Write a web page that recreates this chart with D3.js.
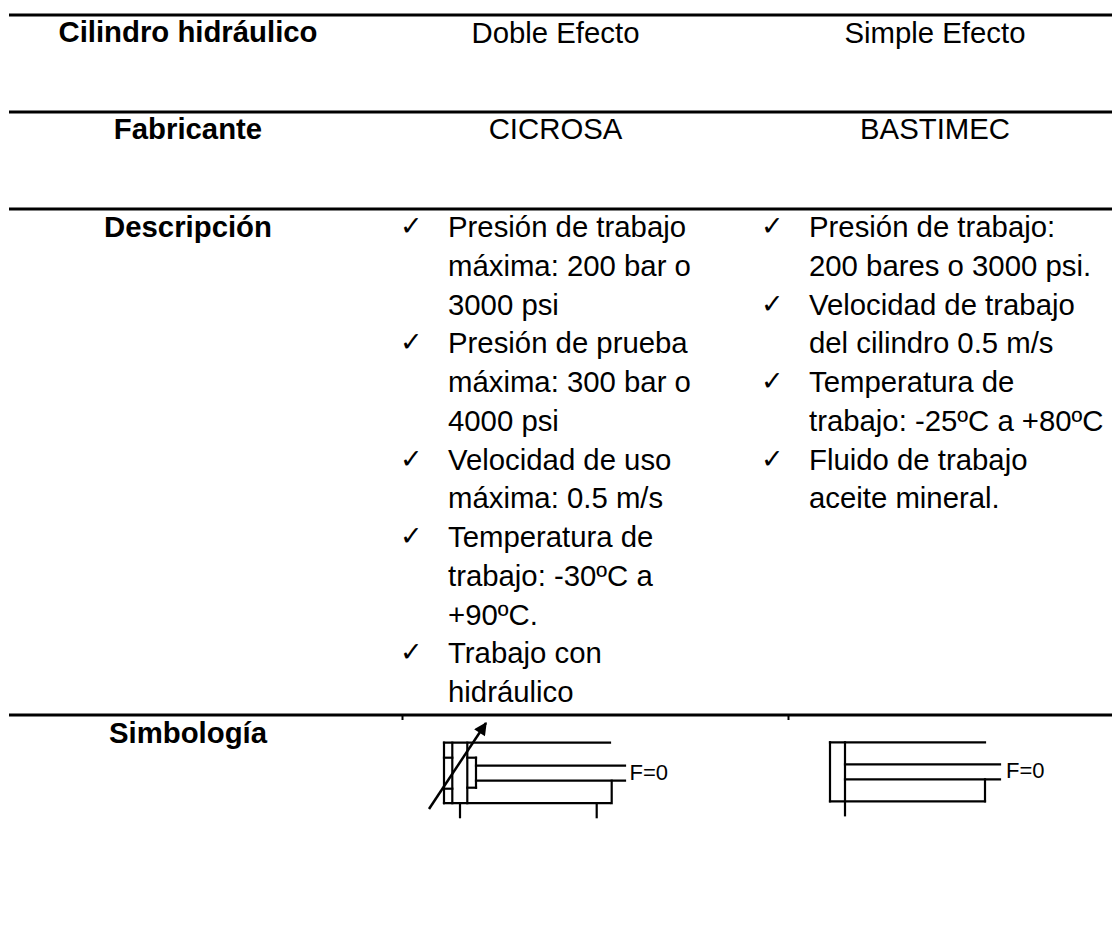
<!DOCTYPE html>
<html><head><meta charset="utf-8">
<script src="https://cdn.jsdelivr.net/npm/d3@7"></script>
<style>html,body{margin:0;background:#fff}svg{display:block}text{font-family:"Liberation Sans",Arial,sans-serif;fill:#000}</style>
</head><body><div id="c"></div>
<script>
const rowHeads = ["Cilindro hidráulico","Fabricante","Descripción","Simbología"];
const typeCells = ["Doble Efecto","Simple Efecto"];
const makerCells = ["CICROSA","BASTIMEC"];
const descDoble = [
 ["Presión de trabajo","máxima: 200 bar o","3000 psi"],
 ["Presión de prueba","máxima: 300 bar o","4000 psi"],
 ["Velocidad de uso","máxima: 0.5 m/s"],
 ["Temperatura de","trabajo: -30ºC a","+90ºC."],
 ["Trabajo con","hidráulico"]];
const descSimple = [
 ["Presión de trabajo:","200 bares o 3000 psi."],
 ["Velocidad de trabajo","del cilindro 0.5 m/s"],
 ["Temperatura de","trabajo: -25ºC a +80ºC"],
 ["Fluido de trabajo","aceite mineral."]];
const ruleYs = [15,112,209,715];
const headBase = [42,139,237,743];
const colCenters = [555.5,935];
const symbolDoble = [
 [0,0,166,0],[0,60.5,166,60.5],[0,0,0,60.5],[8.3,0,8.3,60.5],[23.3,0,23.3,60.5],
 [0,15,8.3,15],[0,46,8.3,46],[23.3,15,32,15],[23.3,45,32,45],[32,15,32,45],
 [32,23,181,23],[32,38,181,38],[167.7,38,167.7,60.5],[16,60.5,16,74.5],[152.7,60.5,152.7,74.5]];
const symbolSimple = [
 [0,0,155,0],[0,59,155,59],[0,0,0,59],[15,0,15,73],[15,22,170,22],[15,37,170,37],[155,37,155,59]];

const W=1112,H=943;
const svg=d3.select("#c").append("svg").attr("width",W).attr("height",H);
const lineStep=38.75;
const lineY=d3.scaleLinear().domain([0,12]).range([237,237+12*lineStep]);
const F=29.33;

svg.selectAll("line.rule").data(ruleYs).join("line").attr("class","rule")
 .attr("x1",9).attr("x2",W).attr("y1",d=>d).attr("y2",d=>d).attr("stroke","#000").attr("stroke-width",3);
[402.5,788.5].forEach(x=>svg.append("line").attr("x1",x).attr("x2",x).attr("y1",716).attr("y2",720).attr("stroke","#000").attr("stroke-width",2));

svg.selectAll("text.head").data(rowHeads).join("text").attr("class","head")
 .attr("x",188).attr("y",(d,i)=>headBase[i]).attr("text-anchor","middle")
 .attr("font-size",F).attr("font-weight","700").text(d=>d);

[[typeCells,42.7],[makerCells,139.3]].forEach(([cells,y])=>{
 svg.selectAll(null).data(cells).join("text").attr("x",(d,i)=>colCenters[i]).attr("y",y)
  .attr("text-anchor","middle").attr("font-size",F).text(d=>d);
});

function desc(items,xText,xCheck){
 let n=0;
 items.forEach(lines=>{
  svg.append("text").attr("x",xCheck).attr("y",lineY(n)-2).attr("font-size",27)
    .style("font-family","DejaVu Sans").text("✓");
  lines.forEach(t=>{svg.append("text").attr("x",xText).attr("y",lineY(n)).attr("font-size",F).text(t);n++;});
 });
}
desc(descDoble,448,400);
desc(descSimple,809,761);

function symbol(data,x0,y0,label,lx,ly){
 const sx=d3.scaleLinear().domain([0,1]).range([x0,x0+1]);
 const sy=d3.scaleLinear().domain([0,1]).range([y0,y0+1]);
 svg.append("g").selectAll("line").data(data).join("line")
  .attr("x1",d=>sx(d[0])).attr("y1",d=>sy(d[1])).attr("x2",d=>sx(d[2])).attr("y2",d=>sy(d[3]))
  .attr("stroke","#000").attr("stroke-width",2.2).attr("stroke-linecap","square");
 svg.append("text").attr("x",lx).attr("y",ly).attr("font-size",22).text(label);
}
symbol(symbolDoble,444,742.7,"F=0",629.5,780);
symbol(symbolSimple,830,742.3,"F=0",1006,778);

svg.append("defs").append("marker").attr("id","ah").attr("viewBox","0 0 10 10").attr("refX",9).attr("refY",5)
 .attr("markerWidth",20).attr("markerHeight",13).attr("markerUnits","userSpaceOnUse").attr("orient","auto")
 .append("path").attr("d",d3.line()([[0,0],[10,5],[0,10]])+"Z").attr("fill","#000");
svg.append("line").datum([429,809,486,723]).attr("x1",d=>d[0]).attr("y1",d=>d[1]).attr("x2",d=>d[2]).attr("y2",d=>d[3])
 .attr("stroke","#000").attr("stroke-width",2.5).attr("marker-end","url(#ah)");
</script></body></html>
